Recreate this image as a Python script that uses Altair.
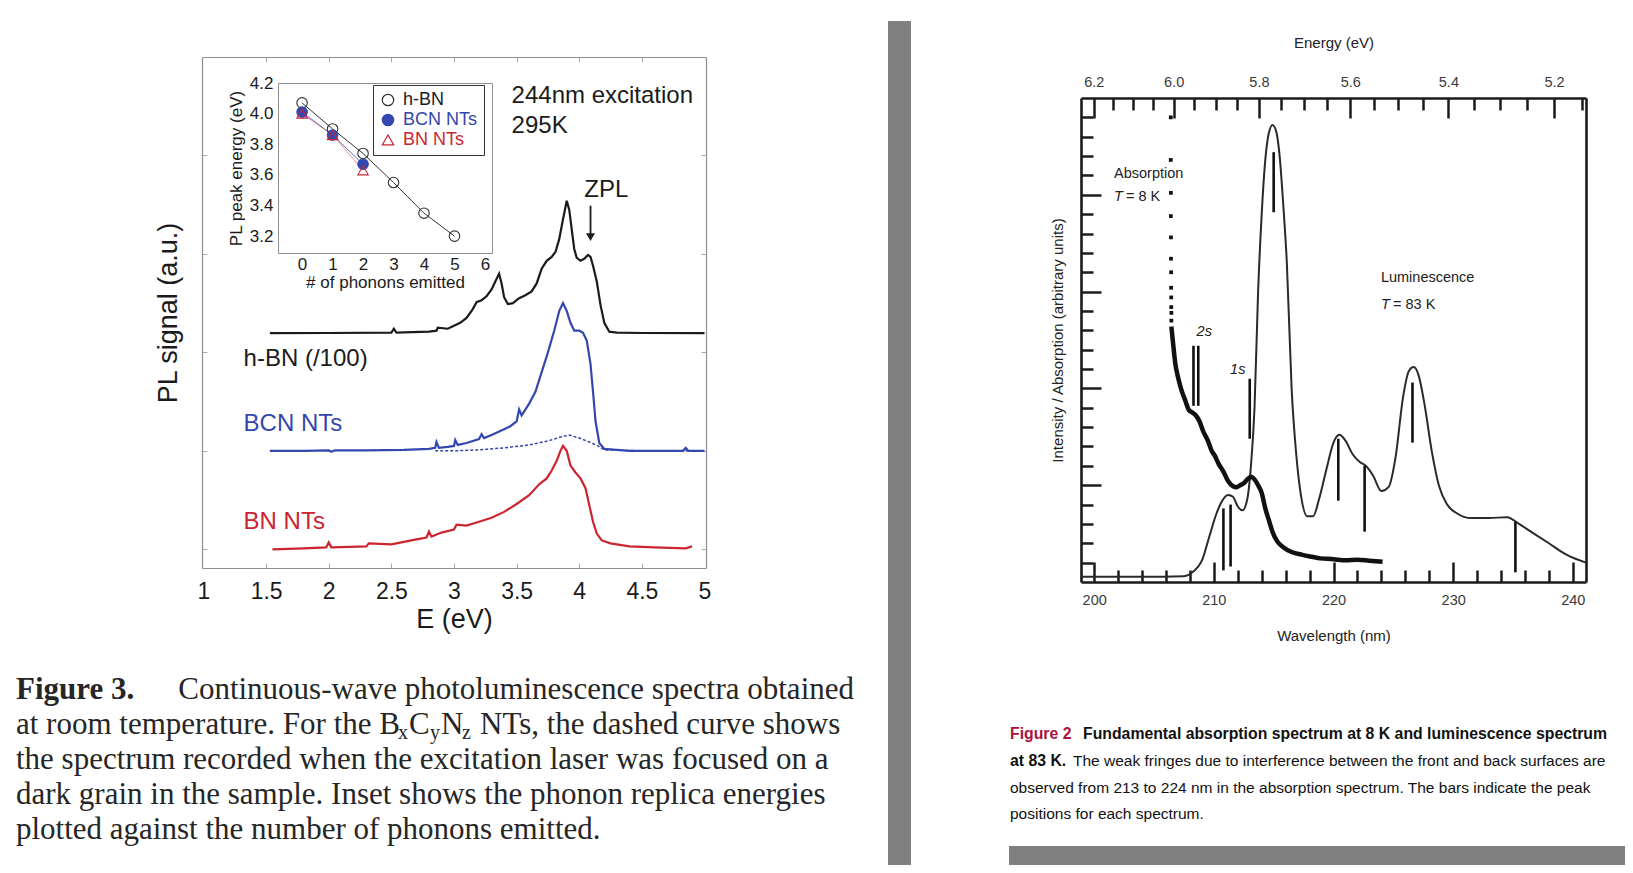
import altair as alt
import pandas as pd

W, H, PAD = 1617, 857, 8

SANS = "Liberation Sans, Arial, Helvetica, sans-serif"
SERIF = "Liberation Serif, Times New Roman, Times, serif"

INK = "#1b1b1b"
BLUE = "#3447ae"
RED = "#cc2530"
FRAME = "#8e8e8e"
TICKC = "#a3adb8"
BARGRAY = "#808080"
CRIMSON = "#a8123e"

# ================= DATA =================
# Figure 3 (left): PL spectra, E (eV) vs stacked PL signal (a.u.)
hbn_e = [1.53, 2.0, 2.5, 2.52, 2.54, 2.8, 2.86, 2.87, 2.95, 3.0, 3.05, 3.1, 3.15, 3.18, 3.22,
         3.26, 3.30, 3.33, 3.36, 3.38, 3.40, 3.43, 3.47, 3.52, 3.57, 3.62, 3.66, 3.70, 3.74, 3.78,
         3.81, 3.84, 3.87, 3.90, 3.92, 3.94, 3.96, 3.98, 4.01, 4.04, 4.07, 4.09, 4.11, 4.14, 4.17,
         4.20, 4.24, 4.30, 4.5, 5.0]
hbn_s = [2.195, 2.197, 2.20, 2.24, 2.20, 2.21, 2.22, 2.25, 2.24, 2.27, 2.30, 2.35, 2.44, 2.51, 2.53,
         2.57, 2.64, 2.72, 2.80, 2.70, 2.56, 2.49, 2.50, 2.55, 2.58, 2.62, 2.70, 2.85, 2.93, 2.97,
         3.02, 3.15, 3.35, 3.54, 3.45, 3.25, 3.05, 2.96, 2.93, 2.95, 2.99, 2.97, 2.88, 2.72, 2.48,
         2.30, 2.21, 2.20, 2.197, 2.195]

bcn_e = [1.53, 1.8, 2.0, 2.02, 2.05, 2.3, 2.6, 2.8, 2.85, 2.86, 2.88, 2.95, 3.0, 3.01, 3.03,
         3.1, 3.2, 3.22, 3.24, 3.3, 3.4, 3.45, 3.5, 3.52, 3.54, 3.6, 3.65, 3.7, 3.75, 3.8,
         3.84, 3.87, 3.90, 3.93, 3.96, 4.0, 4.03, 4.06, 4.09, 4.11, 4.13, 4.16, 4.2, 4.4, 4.83,
         4.85, 4.87, 5.0]
bcn_s = [1.0, 1.0, 1.005, 0.99, 1.005, 1.005, 1.01, 1.02, 1.03, 1.09, 1.03, 1.04, 1.05, 1.11, 1.06,
         1.08, 1.12, 1.17, 1.13, 1.16, 1.22, 1.25, 1.30, 1.42, 1.36, 1.48, 1.60, 1.80, 2.00, 2.22,
         2.42, 2.50, 2.42, 2.30, 2.22, 2.22, 2.20, 2.12, 1.88, 1.60, 1.30, 1.08, 1.02, 1.0, 1.0,
         1.03, 1.0, 1.0]

bcn_dark_e = [2.85, 3.0, 3.2, 3.4, 3.6, 3.75, 3.85, 3.92, 4.0, 4.08, 4.15, 4.2, 4.5, 5.0]
bcn_dark_s = [1.0, 1.0, 1.01, 1.03, 1.06, 1.10, 1.14, 1.16, 1.13, 1.09, 1.05, 1.01, 1.0, 1.0]

bnnt_e = [1.55, 1.8, 1.98, 2.0, 2.02, 2.3, 2.32, 2.5, 2.7, 2.78, 2.8, 2.82, 2.9, 3.0, 3.02,
          3.1, 3.2, 3.3, 3.4, 3.5, 3.6, 3.68, 3.74, 3.78, 3.82, 3.85, 3.87, 3.90, 3.93, 3.97,
          4.01, 4.05, 4.08, 4.11, 4.14, 4.18, 4.25, 4.4, 4.6, 4.85, 4.9]
bnnt_s = [0.0, 0.01, 0.02, 0.07, 0.02, 0.03, 0.06, 0.05, 0.10, 0.12, 0.18, 0.13, 0.17, 0.20, 0.25,
          0.24, 0.28, 0.32, 0.38, 0.46, 0.55, 0.66, 0.72, 0.80, 0.90, 1.00, 1.05, 1.00, 0.85, 0.78,
          0.72, 0.62, 0.45, 0.28, 0.16, 0.09, 0.06, 0.03, 0.02, 0.01, 0.03]

e_tick_vals = [1.5, 2.0, 2.5, 3.0, 3.5, 4.0, 4.5]
e_label_vals = [1, 1.5, 2, 2.5, 3, 3.5, 4, 4.5, 5]
sig_tick_vals = [0, 1, 2, 3, 4]

# Inset: phonon replica energies
series_names = ["h-BN", "BCN NTs", "BN NTs"]
hbn_n = [0, 1, 2, 3, 4, 5]
hbn_peak = [4.07, 3.90, 3.74, 3.55, 3.35, 3.20]
bcn_n = [0, 1, 2]
bcn_peak = [4.01, 3.86, 3.67]
bnnt_n = [0, 1, 2]
bnnt_peak = [4.00, 3.86, 3.63]
inset_x_labels = [0, 1, 2, 3, 4, 5, 6]
inset_y_labels = [3.2, 3.4, 3.6, 3.8, 4.0, 4.2]

# Figure 2 (right): wavelength (nm) vs intensity (arb. units)
lum_wl = [199.0, 204.0, 207.5, 208.3, 209.0, 209.6, 210.2, 210.7, 211.2, 211.6, 212.0, 212.4, 212.8,
          213.1, 213.4, 213.7, 214.0, 214.3, 214.6, 214.9, 215.2, 215.5, 215.8, 216.1, 216.5, 216.9,
          217.3, 217.8, 218.3, 218.8, 219.4, 220.0, 220.5, 221.0, 221.6, 222.2, 222.7, 223.3, 224.0,
          224.6, 225.2, 225.8, 226.3, 226.7, 227.1, 227.6, 228.2, 228.8, 229.5, 230.3, 231.5, 233.0,
          234.5, 235.5, 236.5, 238.0, 239.5, 241.1]
lum_i = [0.27, 0.27, 0.3, 0.55, 1.1, 2.3, 3.5, 4.2, 4.5, 4.4, 3.9, 3.7, 4.3,
         6.0, 9.0, 15.0, 19.0, 21.8, 23.2, 23.6, 23.3, 22.0, 19.5, 16.5, 10.0, 6.5,
         4.4, 3.4, 3.4, 4.3, 5.8, 7.2, 7.6, 7.3, 6.6, 6.2, 6.0, 5.5, 4.7,
         4.9, 6.5, 9.5, 10.9, 11.1, 10.7, 9.2, 6.8, 5.0, 4.0, 3.55, 3.3, 3.3,
         3.35, 3.0, 2.6, 2.0, 1.4, 1.0]

abs_wl = [206.45, 206.5, 206.6, 206.8, 207.0, 207.3, 207.6, 207.9, 208.2, 208.5, 208.8, 209.1, 209.5,
          209.8, 210.1, 210.4, 210.8, 211.2, 211.6, 211.9, 212.2, 212.5, 212.8, 213.1, 213.4, 213.7,
          214.0, 214.3, 214.6, 214.9, 215.3, 215.8, 216.5, 217.4, 218.2, 218.9, 220.0, 221.0, 222.0,
          223.0, 224.1]
abs_i = [13.2, 12.9, 12.3, 11.2, 10.6, 9.9, 9.4, 8.9, 8.75, 8.6, 8.3, 7.8, 7.3,
         6.8, 6.5, 6.1, 5.7, 5.2, 4.95, 4.9, 5.0, 5.1, 5.3, 5.44, 5.3, 5.0,
         4.6, 3.8, 3.2, 2.6, 2.1, 1.8, 1.55, 1.4, 1.3, 1.22, 1.18, 1.12, 1.15,
         1.1, 1.05]
abs_dot_wl = [206.40, 206.40, 206.41, 206.41, 206.42, 206.42, 206.43, 206.43, 206.44, 206.44, 206.45, 206.45]
abs_dot_i = [24.0, 21.8, 20.1, 18.9, 17.8, 16.7, 16.0, 15.2, 14.7, 14.2, 13.9, 13.5]

bar_wl = [208.3, 208.7, 213.0, 210.8, 211.4, 215.0, 220.4, 222.6, 226.6, 235.2]
bar_top = [12.2, 12.2, 10.5, 3.8, 4.0, 22.2, 7.4, 6.0, 10.3, 3.1]
bar_bot = [9.1, 9.1, 7.4, 0.6, 0.8, 19.1, 4.2, 2.6, 7.2, 0.5]

HC = 1239.84  # eV*nm, converts energy tick labels to wavelength positions
energy_major = [6.2, 6.0, 5.8, 5.6, 5.4, 5.2]
energy_minor = [6.15, 6.1, 6.05, 5.95, 5.9, 5.85, 5.75, 5.7, 5.65, 5.55, 5.5, 5.45, 5.35, 5.3, 5.25, 5.15]
wl_major = [200, 210, 220, 230, 240]
wl_minor = [202, 204, 206, 208, 212, 214, 216, 218, 222, 224, 226, 228, 232, 234, 236, 238]
int_major = [5, 10, 15, 20]
int_minor = [1, 2, 3, 4, 6, 7, 8, 9, 11, 12, 13, 14, 16, 17, 18, 19, 21, 22, 23, 24]

# Captions
cap3_lines = ["the spectrum recorded when the excitation laser was focused on a",
              "dark grain in the sample. Inset shows the phonon replica energies",
              "plotted against the number of phonons emitted."]
cap2_lines = ["observed from 213 to 224 nm in the absorption spectrum. The bars indicate the peak",
              "positions for each spectrum."]


# ================= HELPERS =================
def lin(domain, p0, p1):
    return alt.Scale(domain=domain, range=[p0 - PAD, p1 - PAD], nice=False, zero=False)


def axis(orient, at, **kw):
    pos = at - PAD
    off = {"bottom": pos - H, "top": -pos, "left": -pos, "right": pos - W}[orient]
    base = dict(labels=False, ticks=False, domain=False, grid=False, title=None,
                labelFlush=False, labelOverlap=False, tickSize=0)
    base.update(kw)
    return alt.Axis(orient=orient, offset=off, **base)


def line(xv, yv, xs, ys, xaxis=None, yaxis=None, **mk):
    df = pd.DataFrame({"x": xv, "y": yv})
    return alt.Chart(df).mark_line(**mk).encode(
        x=alt.X("x:Q", scale=xs, axis=xaxis), y=alt.Y("y:Q", scale=ys, axis=yaxis))


def text(labels, xv, yv, xs, ys, xaxis=None, yaxis=None, **mk):
    df = pd.DataFrame({"t": labels, "x": xv, "y": yv})
    return alt.Chart(df).mark_text(**mk).encode(
        x=alt.X("x:Q", scale=xs, axis=xaxis), y=alt.Y("y:Q", scale=ys, axis=yaxis), text="t:N")


layers = []

# ================= LEFT FIGURE =================
XL = lin([0.988, 5.012], 202, 706)
YL = lin([-0.19, 5.0], 568, 57)
frameL = dict(domain=True, domainColor=FRAME, domainWidth=1.2)
ticksL = dict(ticks=True, tickColor=TICKC, tickWidth=1, tickSize=5)
labL = dict(labelFont=SANS, labelColor=INK)
titL = dict(titleFont=SANS, titleColor=INK, titleFontWeight="normal")

layers.append(line(hbn_e, hbn_s, XL, YL,
                   axis("top", 568, values=e_tick_vals, **frameL, **ticksL),
                   axis("right", 202, values=sig_tick_vals, **frameL, **ticksL),
                   color=INK, strokeWidth=2.2))
layers.append(line(bcn_e, bcn_s, XL, YL,
                   axis("bottom", 568, labels=True, values=e_label_vals, format="~g", labelFontSize=23,
                        labelPadding=12, title="E (eV)", titleFontSize=27, titlePadding=3, **labL, **titL),
                   axis("left", 202, title="PL signal (a.u.)", titleFontSize=27, titlePadding=20, **titL),
                   color=BLUE, strokeWidth=2.2))
layers.append(line(bnnt_e, bnnt_s, XL, YL,
                   axis("bottom", 57, values=e_tick_vals, **frameL, **ticksL),
                   axis("left", 706, values=sig_tick_vals, **frameL, **ticksL),
                   color=RED, strokeWidth=2.2))
layers.append(line(bcn_dark_e, bcn_dark_s, XL, YL, color=BLUE, strokeWidth=1.5, strokeDash=[3, 2]))

layers.append(text(["244nm excitation", "295K", "h-BN (/100)", "ZPL"], [3.46, 3.46, 1.32, 4.04],
                   [4.60, 4.30, 1.93, 3.65], XL, YL, font=SANS, fontSize=24, color=INK, align="left",
                   baseline="middle"))
layers.append(text(["BCN NTs"], [1.32], [1.27], XL, YL, font=SANS, fontSize=24, color=BLUE,
                   align="left", baseline="middle"))
layers.append(text(["BN NTs"], [1.32], [0.28], XL, YL, font=SANS, fontSize=24, color=RED,
                   align="left", baseline="middle"))
zpl = pd.DataFrame({"x": [4.09], "y": [3.49], "y2": [3.17]})
layers.append(alt.Chart(zpl).mark_rule(color=INK, strokeWidth=1.8).encode(
    x=alt.X("x:Q", scale=XL, axis=None), y=alt.Y("y:Q", scale=YL, axis=None), y2="y2:Q"))
layers.append(alt.Chart(zpl).mark_point(shape="triangle-down", filled=True, size=80, color=INK,
                                        opacity=1).encode(
    x=alt.X("x:Q", scale=XL, axis=None), y=alt.Y("y2:Q", scale=YL, axis=None)))

# ---- inset ----
XI = lin([-0.79, 6.23], 278, 492)
YI = lin([3.09, 4.2], 253, 83)
frameI = dict(domain=True, domainColor=FRAME, domainWidth=1)
layers.append(line(hbn_n, hbn_peak, XI, YI,
                   axis("bottom", 253, labels=True, values=inset_x_labels, labelFontSize=17, labelPadding=3,
                        title="# of phonons emitted", titleFontSize=17, titlePadding=2, **frameI, **labL, **titL),
                   axis("left", 278, labels=True, values=inset_y_labels, format=".1f", labelFontSize=17,
                        labelPadding=5, title="PL peak energy (eV)", titleFontSize=17, titlePadding=4,
                        **frameI, **labL, **titL),
                   color="#333333", strokeWidth=1))
layers.append(line(bcn_n, bcn_peak, XI, YI, axis("top", 83, **frameI), axis("right", 492, **frameI),
                   color=BLUE, strokeWidth=0.8))
layers.append(line(bnnt_n, bnnt_peak, XI, YI, color=RED, strokeWidth=0.8, opacity=0.6))

pts = pd.DataFrame({
    "n": hbn_n + bcn_n + bnnt_n,
    "peak": hbn_peak + bcn_peak + bnnt_peak,
    "series": [series_names[0]] * len(hbn_n) + [series_names[1]] * len(bcn_n) + [series_names[2]] * len(bnnt_n),
})
leg = alt.Legend(orient="none", legendX=373 - PAD, legendY=85 - PAD, title=None, direction="vertical",
                 fillColor="white", strokeColor="#333333", padding=6, rowPadding=2, labelFont=SANS,
                 labelFontSize=18, symbolSize=130, symbolStrokeWidth=1.2, labelOffset=6,
                 labelColor={"expr": "datum.label == 'h-BN' ? '#1b1b1b' : (datum.label == 'BCN NTs' ? '#3447ae' : '#cc2530')"})
layers.append(alt.Chart(pts).mark_point(size=110, strokeWidth=1.1, opacity=1).encode(
    x=alt.X("n:Q", scale=XI, axis=None),
    y=alt.Y("peak:Q", scale=YI, axis=None),
    color=alt.Color("series:N", scale=alt.Scale(domain=series_names, range=["#333333", BLUE, RED]), legend=leg),
    shape=alt.Shape("series:N", scale=alt.Scale(domain=series_names, range=["circle", "circle", "triangle-up"]), legend=leg),
    fill=alt.Fill("series:N", scale=alt.Scale(domain=series_names, range=["transparent", BLUE, "transparent"]), legend=leg),
))

# ================= RIGHT FIGURE =================
XR = lin([198.9, 241.1], 1081, 1586)
YR = lin([0, 25], 582, 98)
frameR = dict(domain=True, domainColor=INK, domainWidth=2.6)
majR = dict(ticks=True, tickColor=INK, tickWidth=2.5, tickSize=20)
minR = dict(ticks=True, tickColor=INK, tickWidth=2.5, tickSize=12)
labR = dict(labelFont=SANS, labelColor="#3a3a3a", labelFontSize=14.5)
titR = dict(titleFont=SANS, titleColor="#222222", titleFontWeight="normal", titleFontSize=15)
annR = dict(font=SANS, fontSize=14.5, color="#222222", baseline="middle")

layers.append(line(lum_wl, lum_i, XR, YR,
                   axis("bottom", 582, labels=True, values=wl_major, labelPadding=11, title="Wavelength (nm)",
                        titlePadding=22, **frameR, **labR, **titR),
                   axis("left", 1081, title="Intensity / Absorption (arbitrary units)", titlePadding=16,
                        **frameR, **titR),
                   color="#2a2a2a", strokeWidth=2, interpolate="monotone"))
layers.append(line(abs_wl, abs_i, XR, YR,
                   axis("top", 582, values=wl_major, **majR),
                   axis("right", 1081, values=int_major, **majR),
                   color="#111111", strokeWidth=4.5, interpolate="monotone"))
dots = pd.DataFrame({"x": abs_dot_wl, "y": abs_dot_i})
layers.append(alt.Chart(dots).mark_square(size=14, color="#111111", opacity=1).encode(
    x=alt.X("x:Q", scale=XR, axis=axis("top", 582, values=wl_minor, **minR)),
    y=alt.Y("y:Q", scale=YR, axis=axis("right", 1081, values=int_minor, **minR))))
bars = pd.DataFrame({"x": bar_wl, "y": bar_top, "y2": bar_bot})
layers.append(alt.Chart(bars).mark_rule(color="#111111", strokeWidth=2.6).encode(
    x=alt.X("x:Q", scale=XR, axis=axis("top", 98, labels=True, values=[HC / e for e in energy_major],
                                       labelExpr="format(1239.84 / datum.value, '.1f')", labelPadding=9,
                                       title="Energy (eV)", titlePadding=24, **frameR, **labR, **titR)),
    y=alt.Y("y:Q", scale=YR, axis=axis("left", 1586, **frameR)), y2="y2:Q"))

layers.append(text(["Absorption", "Luminescence"], [201.66, 223.96], [21.1, 15.7], XR, YR,
                   axis("bottom", 98, values=[HC / e for e in energy_major], **majR), None,
                   align="left", **annR))
layers.append(text(["T", "T"], [201.66, 223.96], [19.9, 14.3], XR, YR,
                   axis("bottom", 98, values=[HC / e for e in energy_minor], **minR), None,
                   fontStyle="italic", align="left", **annR))
layers.append(text(["= 8 K", "= 83 K"], [202.66, 224.97], [19.9, 14.3], XR, YR, align="left", **annR))
layers.append(text(["2s", "1s"], [209.2, 212.0], [12.9, 10.95], XR, YR,
                   fontStyle="italic", align="center", **annR))

# ================= PAGE (captions, gray rules) =================
PX = alt.Scale(domain=[PAD, PAD + W], range=[0, W], nice=False, zero=False)
PY = alt.Scale(domain=[PAD, PAD + H], range=[0, H], nice=False, zero=False)
blocks = pd.DataFrame({"x": [888, 1009], "x2": [911, 1640], "y": [21, 846], "y2": [880, 868]})
layers.append(alt.Chart(blocks).mark_rect(color=BARGRAY).encode(
    x=alt.X("x:Q", scale=PX, axis=None), x2="x2:Q", y=alt.Y("y:Q", scale=PY, axis=None), y2="y2:Q"))

# left caption (serif)
capfont = dict(font=SERIF, fontSize=31, color="#262626", baseline="middle")
layers.append(text(["Figure 3."], [16], [690], PX, PY, align="left", fontWeight="bold", **capfont))
layers.append(text(["Continuous-wave photoluminescence spectra obtained"], [854], [690], PX, PY,
                   align="right", **capfont))
layers.append(text(["at room temperature. For the B", "C", "N"], [16, 409, 441], [725, 725, 725], PX, PY,
                   align="left", **capfont))
layers.append(text(["x", "y", "z"], [398, 430, 462], [733, 733, 733], PX, PY, align="left",
                   font=SERIF, fontSize=20, color="#262626", baseline="middle"))
layers.append(text(["NTs, the dashed curve shows"], [480], [725], PX, PY, align="left", **capfont))
layers.append(text(cap3_lines, [16, 16, 16], [760, 795, 830], PX, PY, align="left", **capfont))

# right caption (sans)
capB = dict(font=SANS, fontSize=15.8, baseline="middle", align="left", fontWeight="bold")
capN = dict(font=SANS, fontSize=15.5, baseline="middle", align="left", color="#111111")
layers.append(text(["Figure 2"], [1010], [734], PX, PY, color=CRIMSON, **capB))
layers.append(text(["Fundamental absorption spectrum at 8 K and luminescence spectrum", "at 83 K."],
                   [1083, 1010], [734, 761], PX, PY, color="#111111", **capB))
layers.append(text(["The weak fringes due to interference between the front and back surfaces are"] + cap2_lines,
                   [1073, 1010, 1010], [761, 788, 814], PX, PY, **capN))

chart = alt.layer(*layers).resolve_scale(
    x="independent", y="independent"
).properties(
    width=W, height=H, padding=0, autosize=alt.AutoSizeParams(type="none")
).configure_view(stroke=None)

chart.save("out.html", embed_options={"renderer": "svg", "actions": False})
